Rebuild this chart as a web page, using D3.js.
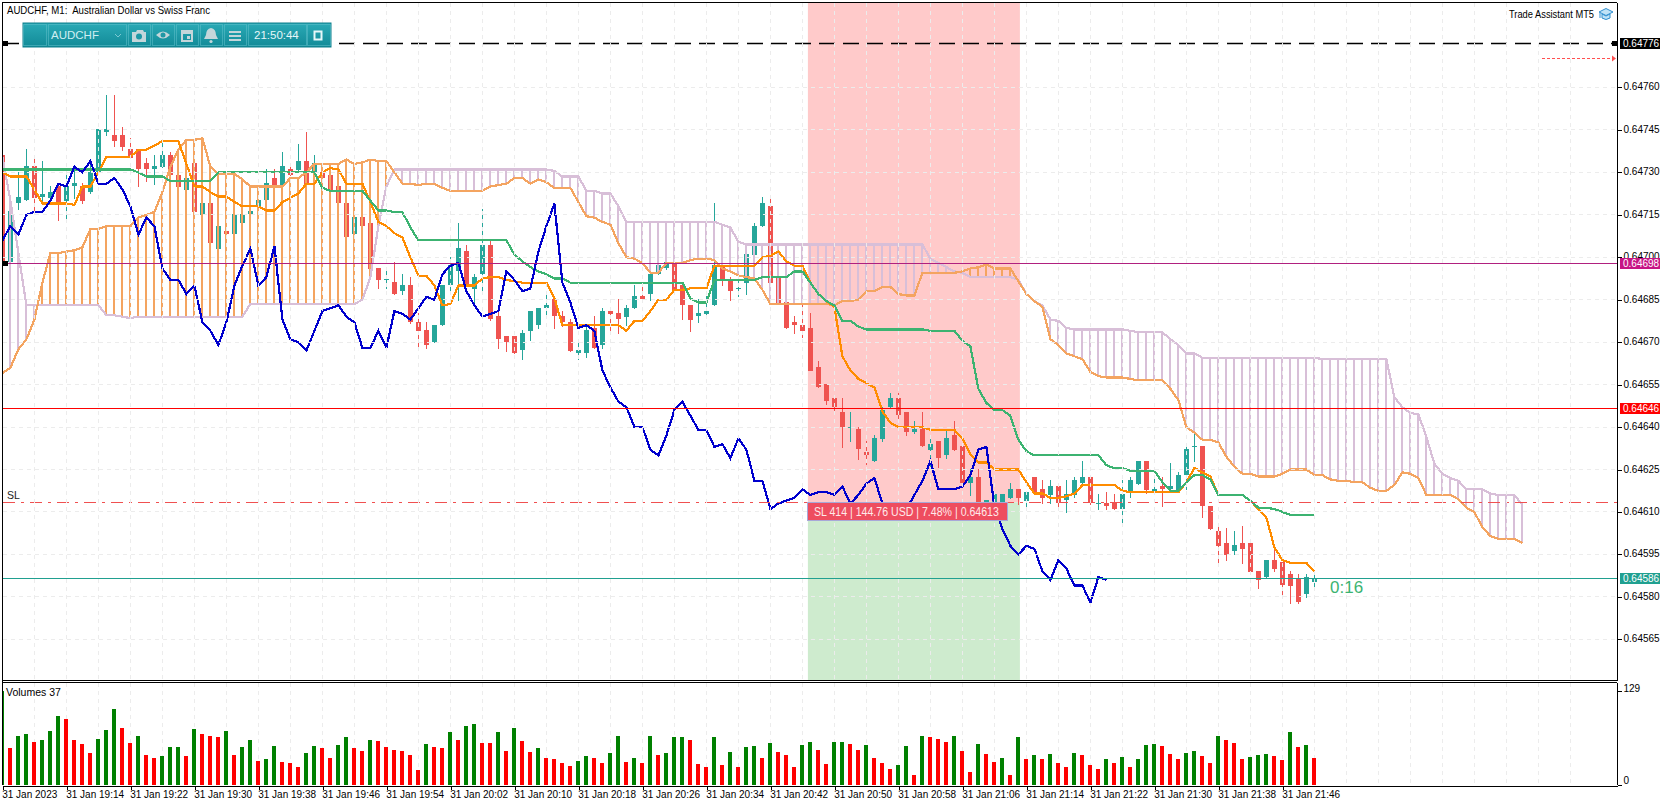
<!DOCTYPE html>
<html>
<head>
<meta charset="utf-8">
<title>AUDCHF M1</title>
<script src="https://cdn.jsdelivr.net/npm/d3@7"></script>
<style>
  html, body { margin: 0; padding: 0; background: #fff; }
  svg { display: block; font-family: "Liberation Sans", Arial, sans-serif; }
  .axis text { font-size: 10px; fill: #000; font-family: "Liberation Sans", Arial, sans-serif; }
  .axis line, .axis path { stroke: #000; shape-rendering: crispEdges; }
  .grid line { stroke: #ececec; stroke-dasharray: 4 4; shape-rendering: crispEdges; }
</style>
</head>
<body>
<svg id="chart"></svg>
<script>
// prices are kept in points (1 point = 0.00001), bar 0 is 31 Jan 19:06
const open = [
  64736,64698,64719,64720,64732,64721,64721,64725,64720,64725,
  64725,64723,64730,64744,64743,64743,64738,64738,64733,64731,
  64732,64736,64729,64724,64733,64715,64719,64703,64709,64708,
  64712,64715,64718,64720,64728,64725,64731,64731,64734,64730,
  64730,64729,64725,64719,64708,64714,64712,64696,64692,64691,
  64688,64690,64677,64674,64670,64676,64690,64695,64702,64689,
  64694,64704,64679,64672,64672,64667,64674,64676,64682,64685,
  64679,64677,64666,64666,64675,64669,64681,64680,64679,64682,
  64686,64687,64694,64696,64698,64690,64683,64679,64680,64683,
  64697,64692,64689,64691,64701,64711,64718,64693,64684,64677,
  64676,64675,64661,64655,64650,64645,64640,64639,64631,64628,
  64636,64647,64650,64645,64638,64639,64632,64635,64630,64637,
  64633,64620,64622,64613,64613,64613,64615,64618,64614,64622,
  64618,64616,64619,64614,64616,64620,64622,64613,64613,64613,
  64611,64617,64620,64628,64617,64619,64618,64618,64623,64633,
  64633,64612,64603,64599,64596,64599,64599,64589,64587,64593,
  64592,64588,64586,64581,64585];
const high = [
  64736,64716,64730,64738,64735,64734,64725,64726,64730,64732,
  64726,64734,64745,64757,64757,64746,64742,64738,64735,64736,
  64741,64737,64731,64731,64733,64719,64719,64711,64709,64715,
  64715,64716,64720,64731,64731,64737,64733,64740,64744,64736,
  64730,64730,64725,64719,64714,64714,64712,64696,64696,64698,
  64694,64693,64680,64677,64676,64690,64700,64712,64704,64694,
  64717,64706,64681,64672,64672,64674,64681,64682,64687,64685,
  64681,64678,64671,64676,64679,64682,64681,64685,64683,64690,
  64690,64694,64697,64699,64698,64690,64683,64685,64686,64719,
  64697,64693,64692,64701,64712,64721,64721,64693,64684,64679,
  64683,64680,64663,64655,64651,64650,64645,64640,64635,64637,
  64647,64652,64652,64645,64642,64645,64637,64635,64639,64642,
  64633,64625,64625,64614,64616,64616,64620,64618,64617,64622,
  64621,64621,64619,64621,64622,64628,64623,64616,64617,64616,
  64621,64622,64628,64628,64622,64622,64627,64624,64633,64638,
  64633,64612,64605,64604,64603,64605,64600,64589,64593,64598,
  64592,64589,64588,64588,64589];
const low = [
  64698,64698,64717,64720,64716,64719,64720,64713,64713,64721,
  64719,64723,64730,64743,64739,64738,64735,64725,64727,64726,
  64732,64728,64725,64724,64716,64715,64705,64703,64708,64708,
  64712,64715,64716,64720,64725,64725,64729,64731,64726,64729,
  64728,64724,64719,64707,64708,64711,64696,64689,64689,64687,
  64687,64677,64667,64668,64670,64676,64687,64685,64690,64684,
  64687,64678,64668,64667,64666,64664,64671,64675,64679,64675,
  64676,64667,64664,64665,64668,64668,64673,64673,64676,64682,
  64684,64685,64694,64696,64688,64678,64674,64677,64679,64683,
  64690,64685,64686,64687,64701,64711,64691,64684,64675,64673,
  64672,64660,64654,64648,64645,64633,64635,64629,64627,64628,
  64635,64647,64642,64637,64638,64633,64625,64626,64629,64632,
  64620,64616,64613,64613,64613,64613,64615,64613,64612,64616,
  64613,64613,64612,64610,64615,64620,64613,64611,64611,64611,
  64606,64615,64620,64617,64616,64612,64617,64617,64618,64628,
  64608,64604,64592,64593,64595,64592,64589,64583,64587,64589,
  64580,64578,64578,64580,64584];
const close = [
  64698,64716,64721,64732,64721,64722,64723,64719,64725,64726,
  64720,64730,64745,64745,64741,64739,64735,64731,64731,64732,
  64736,64729,64725,64728,64716,64719,64705,64711,64708,64715,
  64715,64716,64720,64726,64725,64732,64729,64734,64726,64733,
  64728,64724,64719,64707,64714,64711,64696,64692,64692,64687,
  64690,64677,64674,64669,64676,64690,64697,64703,64690,64693,
  64704,64678,64671,64670,64666,64673,64681,64682,64683,64679,
  64677,64667,64667,64674,64668,64681,64680,64678,64682,64686,
  64685,64694,64697,64698,64688,64683,64678,64680,64681,64697,
  64692,64688,64689,64701,64711,64719,64691,64684,64675,64676,
  64674,64660,64654,64649,64647,64640,64640,64632,64630,64636,
  64646,64650,64644,64638,64639,64633,64634,64629,64636,64632,
  64620,64622,64613,64614,64616,64616,64618,64615,64617,64617,
  64615,64619,64613,64616,64621,64622,64613,64613,64612,64611,
  64616,64621,64628,64618,64618,64618,64619,64623,64632,64633,
  64612,64604,64598,64595,64598,64597,64589,64586,64593,64590,
  64584,64584,64578,64587,64586];
const volume = [
  129,51,67,70,59,62,74,95,90,62,
  56,44,63,75,104,78,58,67,41,37,
  40,52,52,40,77,70,67,66,74,41,
  52,62,33,35,54,32,30,25,44,54,
  50,37,55,65,51,47,62,60,52,48,
  47,41,20,56,52,51,73,62,81,84,
  58,57,73,47,78,60,45,50,37,35,
  30,26,33,39,37,30,44,67,32,37,
  30,67,41,44,65,65,62,29,25,65,
  28,45,24,52,54,37,58,45,41,24,
  55,59,48,29,59,59,56,48,55,37,
  30,22,28,54,14,67,66,63,59,67,
  47,18,56,43,32,37,14,65,36,41,
  36,43,30,25,44,41,28,22,36,30,
  38,25,36,55,56,53,43,36,44,47,
  40,30,67,62,58,36,38,41,43,40,
  34,72,52,55,37];
const tenkan = [
  64730,64728.5,64728.5,64728.5,64724,64719,64719,64719,64719,64718.5,
  64725,64725,64730,64735.5,64735.5,64735.5,64735.5,64738,64738,64739.5,
  64741,64741,64741,64733,64725,64725,64723,64721.5,64721.5,64719.5,
  64718,64718,64718,64716.5,64716.5,64719.5,64721,64722.5,64726,64726,
  64730,64731.5,64731,64726,64726,64726,64719.5,64712.5,64711,64708.5,
  64707,64700,64693.5,64693.5,64690,64683,64683.5,64690,64690,64690,
  64692.5,64693,64693,64692,64691.5,64691,64691,64691,64691,64685.5,
  64676,64676,64676,64676,64676,64676,64676,64676,64674,64677.5,
  64677.5,64681,64685,64685,64688.5,64688.5,64689,64689,64689,64697,
  64697,64697,64697,64697,64697,64700,64700.5,64702,64698.5,64697,
  64697,64691,64687,64684.5,64682.5,64665,64660,64657,64655.5,64654,
  64645.5,64641.5,64640,64640,64640,64640,64639,64639,64639,64639,
  64636,64630.5,64627.5,64627.5,64625,64625,64625,64625,64620.5,64616.5,
  64616.5,64615,64615,64615.5,64616.5,64619.5,64619.5,64619.5,64619.5,64619.5,
  64617.5,64617,64617,64617,64617,64617,64617,64617,64620.5,64625.5,
  64624,64622.5,64616,64616,64616,64616,64614,64611,64608,64597.5,
  64593,64592,64592,64592,64589];
const kijun = [
  64731,64731,64731,64731,64731,64731,64731,64731,64731,64731,
  64731,64731,64731,64731,64731,64731,64731,64730,64728.5,64728.5,
  64728.5,64727,64727,64727,64727,64727,64727,64730,64730,64730,
  64730,64730,64730,64730,64730,64730,64730,64730,64730,64730,
  64724.5,64723.5,64723.5,64723.5,64723.5,64723.5,64720,64716.5,64716.5,64716,
  64716,64710.5,64706,64706,64706,64706,64706,64706,64706,64706,
  64706,64706,64706,64706,64701,64698.5,64696.5,64695,64694,64692.5,
  64692.5,64691,64691,64691,64691,64691,64691,64691,64691,64691,
  64691,64691,64691,64691,64691,64691,64685.5,64684,64684,64692,
  64692,64692,64692,64692,64692,64693,64693,64693,64693,64695,
  64695,64691,64687,64684.5,64683,64677.5,64677.5,64675.5,64674.5,64674.5,
  64674.5,64674.5,64674.5,64674.5,64674.5,64674.5,64674,64674,64674,64674,
  64670.5,64668.5,64653.5,64648.5,64646,64646,64644,64635.5,64631.5,64630,
  64630,64630,64630,64630,64630,64630,64630,64630,64626.5,64625.5,
  64625.5,64624.5,64624.5,64624.5,64624.5,64620.5,64617.5,64617.5,64620.5,64623,
  64623,64621.5,64616,64616,64616,64616,64614,64611.5,64611.5,64611,
  64610,64609,64609,64609,64609];
const chikou = [
  64706,64711,64708,64715,64716,64716,64720,64726,64725,64732,
  64730,64734,64726,64726,64728,64724,64718,64708,64714,64711,
  64696,64692,64692,64687,64690,64677,64674,64669,64677,64690,
  64697,64703,64690,64693,64704,64678,64671,64670,64667,64674,
  64681,64682,64683,64679,64677,64668,64668,64674,64668,64681,
  64680,64678,64682,64686,64685,64694,64697,64698,64688,64683,
  64679,64680,64681,64695,64692,64688,64689,64702,64711,64719,
  64691,64684,64675,64676,64674,64660,64654,64649,64647,64640,
  64640,64632,64630,64637,64646,64649,64644,64639,64639,64633,
  64634,64629,64636,64632,64621,64621,64611,64613,64614,64615,
  64618,64616,64617,64617,64616,64619,64613,64616,64620,64622,
  64613,64613,64612,64611,64616,64621,64628,64618,64618,64618,
  64619,64623,64632,64633,64612,64604,64598,64595,64598,64597,
  64589,64586,64593,64590,64584,64584,64578,64587,64586];
const spanA = [
  64659,64661,64667.5,64671,64678,64691,64701.5,64701.5,64702,64702.5,
  64703.5,64710,64710,64711,64711,64711,64711,64714,64715,64716,
  64723,64732,64738,64741.5,64741.5,64742,64732,64729.5,64729.5,64729.5,
  64727.5,64725,64725,64725,64725,64725,64728,64728,64730,64733,
  64733,64733,64733,64734.5,64733,64733.5,64734.5,64734,64734,64730,
  64726,64726,64725.5,64726,64726,64724.5,64723.5,64723.5,64723.5,64723.5,
  64723.5,64725,64725.5,64726,64728,64728,64726,64727.5,64726.5,64724.5,
  64724.5,64724.5,64719.5,64714.5,64714,64712.5,64711.5,64705,64700,64699.5,
  64698,64694.5,64694.5,64698,64698,64698,64699,64699.5,64699.5,64699,
  64696,64695,64693.5,64693,64692.5,64688.5,64683.5,64683.5,64683.5,64683.5,
  64683.5,64683.5,64683.5,64683.5,64683,64684.5,64684.5,64685,64688,64688,
  64689.5,64689.5,64687,64686.5,64686.5,64694.5,64694.5,64694.5,64694.5,64694.5,
  64695,64696,64696.5,64697.5,64696,64696,64696,64691.5,64687,64684.5,
  64682.5,64671,64669,64666,64665,64664,64659.5,64658,64657.5,64657.5,
  64657.5,64657,64656.5,64656.5,64656.5,64656.5,64653.5,64649.5,64640,64638,
  64635.5,64635.5,64634.5,64629.5,64626,64623.5,64623.5,64622.5,64622.5,64622.5,
  64623.5,64625,64625,64625,64623,64623,64621.5,64621,64621,64620.5,
  64620.5,64618.5,64617.5,64617.5,64619.5,64624,64623.5,64622,64616,64616,
  64616,64616,64614.5,64611.5,64610,64604.5,64601.5,64600.5,64600.5,64600.5,64599];
const spanB = [
  64735.5,64720,64701.5,64683,64683,64683,64683,64683,64683,64683,
  64683,64683,64683,64679.5,64679.5,64679,64678.5,64679,64679,64679,
  64679,64679,64679,64679,64679,64679,64679,64679,64679,64679,
  64679,64683.5,64683.5,64683.5,64683.5,64683.5,64683.5,64683.5,64683.5,64683.5,
  64683.5,64683.5,64683.5,64683.5,64683.5,64685,64693,64711,64725,64731,
  64731,64731,64731,64731,64731,64731,64731,64731,64731,64731,
  64731,64731,64731,64731,64731,64731,64731,64731,64731,64730.5,
  64728.5,64728.5,64728.5,64723.5,64723.5,64722.5,64722.5,64718,64712.5,64712.5,
  64712.5,64712.5,64712.5,64712.5,64712.5,64712.5,64712.5,64712.5,64712.5,64712.5,
  64711.5,64710.5,64705.5,64704.5,64704.5,64704.5,64704.5,64704.5,64704.5,64704.5,
  64704.5,64704.5,64704.5,64704.5,64704.5,64704.5,64704.5,64704.5,64704.5,64704.5,
  64704.5,64704.5,64704.5,64704.5,64704.5,64704.5,64699.5,64698,64696.5,64695,
  64694.5,64693,64693,64693,64693,64693,64693,64692,64687,64684.5,
  64683,64678,64677.5,64675,64674.5,64674.5,64674.5,64674.5,64674.5,64674.5,
  64674.5,64674,64673.5,64673.5,64673.5,64673.5,64671,64669,64666,64666,
  64664.5,64664.5,64664.5,64664.5,64664.5,64664.5,64664.5,64664.5,64664.5,64664.5,
  64664.5,64664.5,64664.5,64664.5,64664.5,64664,64664,64664,64664,64664,
  64664,64664,64664,64664,64650.5,64647,64645,64644.5,64636.5,64627,
  64623.5,64622,64621,64618,64618,64618,64616.5,64616,64616,64616,64612.5];

const priceTicks = [64760,64745,64730,64715,64700,64685,64670,64655,64640,64625,64610,64595,64580,64565];
const timeLabels = ["31 Jan 2023","31 Jan 19:14","31 Jan 19:22","31 Jan 19:30","31 Jan 19:38","31 Jan 19:46",
  "31 Jan 19:54","31 Jan 20:02","31 Jan 20:10","31 Jan 20:18","31 Jan 20:26","31 Jan 20:34","31 Jan 20:42",
  "31 Jan 20:50","31 Jan 20:58","31 Jan 21:06","31 Jan 21:14","31 Jan 21:22","31 Jan 21:30","31 Jan 21:38","31 Jan 21:46"];

// price levels drawn across the chart
const maxLevel = 64775.6, midLevel = 64697.8, upperLevel = 64646.6, slLevel = 64613.4, bidLevel = 64586.5;
const targetLevel = 64770.3;
const tagLabels = ["0.64776", "0.64698", "0.64646", "0.64586"];
// risk zone, in bars
const zoneStart = 100.65, zoneEnd = 127.15, slLabelEnd = 125.65, slLabelBottom = 64607;

// Chart Dimensions
const width = 1670, height = 806;
const left = 3, right = 1617, mainTop = 3, mainBottom = 680, volTop = 683, volBottom = 785;
const barStep = 8, firstBar = 2.7;

const svg = d3.select("#chart").attr("width", width).attr("height", height);

// Create Scales
const x = d3.scaleLinear().domain([0, (right - firstBar) / barStep]).range([firstBar, right]);
const y = d3.scaleLinear().domain([64565, 64760]).range([639.3, 87.45]);
const yVol = d3.scaleLinear().domain([0, 129]).range([volBottom, 690.7]);
const col = (i) => Math.floor(x(i));

const defs = svg.append("defs");
defs.append("clipPath").attr("id", "mainClip").append("rect")
  .attr("x", left).attr("y", mainTop).attr("width", right - left).attr("height", mainBottom - mainTop);
defs.append("clipPath").attr("id", "volClip").append("rect")
  .attr("x", left).attr("y", volTop).attr("width", right - left).attr("height", volBottom - volTop);
const tbGrad = defs.append("linearGradient").attr("id", "tbGrad").attr("x1", 0).attr("y1", 0).attr("x2", 0).attr("y2", 1);
tbGrad.append("stop").attr("offset", "0%").attr("stop-color", "#2aaab6");
tbGrad.append("stop").attr("offset", "100%").attr("stop-color", "#128a97");

const main = svg.append("g").attr("clip-path", "url(#mainClip)");

// Risk zone
main.append("rect").attr("x", x(zoneStart)).attr("y", mainTop)
  .attr("width", x(zoneEnd) - x(zoneStart)).attr("height", y(slLevel) - mainTop).attr("fill", "#ffcaca");
main.append("rect").attr("x", x(zoneStart)).attr("y", y(slLevel))
  .attr("width", x(zoneEnd) - x(zoneStart)).attr("height", mainBottom - y(slLevel)).attr("fill", "#ceebce");

// Grid
const gridBars = d3.range(4, 200, 4);
const grid = svg.append("g").attr("class", "grid");
grid.selectAll(".gv").data(gridBars).enter().append("line").attr("class", "gv")
  .attr("x1", (d) => col(d) + 0.5).attr("x2", (d) => col(d) + 0.5).attr("y1", mainTop).attr("y2", mainBottom);
grid.selectAll(".gw").data(gridBars).enter().append("line").attr("class", "gw")
  .attr("x1", (d) => col(d) + 0.5).attr("x2", (d) => col(d) + 0.5).attr("y1", volTop).attr("y2", volBottom);
grid.selectAll(".gh").data(priceTicks).enter().append("line").attr("class", "gh")
  .attr("x1", left).attr("x2", right)
  .attr("y1", (d) => Math.floor(y(d)) + 0.5).attr("y2", (d) => Math.floor(y(d)) + 0.5);

// Candles
const bars = d3.range(open.length);
const teal = "#26a69a", red = "#ef5350";
const barColor = (i) => (close[i] >= open[i] ? teal : red);
main.selectAll(".wick").data(bars).enter().append("rect").attr("class", "wick")
  .attr("x", (i) => col(i)).attr("width", 1)
  .attr("y", (i) => Math.floor(y(high[i]))).attr("height", (i) => Math.ceil(y(low[i]) - y(high[i])) + 1)
  .attr("fill", barColor).attr("shape-rendering", "crispEdges");
main.selectAll(".body").data(bars).enter().append("rect").attr("class", "body")
  .attr("x", (i) => col(i) - 2).attr("width", 5)
  .attr("y", (i) => Math.floor(y(Math.max(open[i], close[i]))))
  .attr("height", (i) => Math.max(1, Math.ceil(Math.abs(y(open[i]) - y(close[i])))))
  .attr("fill", barColor).attr("shape-rendering", "crispEdges");

// Ichimoku cloud
const cloudBars = d3.range(spanA.length);
main.selectAll(".hatch").data(cloudBars).enter().append("rect").attr("class", "hatch")
  .attr("x", (i) => col(i) - 1).attr("width", 2)
  .attr("y", (i) => y(Math.max(spanA[i], spanB[i])))
  .attr("height", (i) => Math.abs(y(spanA[i]) - y(spanB[i])))
  .attr("fill", (i) => (spanA[i] > spanB[i] ? "#f4a460" : "#d8bfd8"))
  .attr("shape-rendering", "crispEdges");

const lineGen = d3.line().x((d, i) => x(i) - 0.3).y((d) => y(d));
function drawLine(values, color) {
  main.append("path").datum(values).attr("d", lineGen).attr("fill", "none")
    .attr("stroke", color).attr("stroke-width", 2.2).attr("shape-rendering", "crispEdges");
}
drawLine(spanB, "#d8bfd8");
drawLine(spanA, "#f4a460");
drawLine(tenkan, "#ff8c00");
drawLine(kijun, "#3cb371");
drawLine(chikou, "#0000cd");

// Horizontal levels
const rowOf = (p) => Math.floor(y(p));
function level(p, color, dash) {
  main.append("line").attr("x1", left).attr("x2", right)
    .attr("y1", rowOf(p) + 0.5).attr("y2", rowOf(p) + 0.5)
    .attr("stroke", color).attr("stroke-width", 1)
    .attr("stroke-dasharray", dash || null).attr("shape-rendering", "crispEdges");
}
level(midLevel, "#b0207f");
level(upperLevel, "#ff0000");
level(bidLevel, "#20a090");
level(slLevel, "#f05050", "12 6 3 6");
main.append("line").attr("x1", left).attr("x2", right)
  .attr("y1", rowOf(maxLevel) + 0.5).attr("y2", rowOf(maxLevel) + 0.5)
  .attr("stroke", "#000").attr("stroke-width", 1.5).attr("stroke-dasharray", "16 8");

// Small handles on the levels
[[left, maxLevel], [right - 5, maxLevel], [left, midLevel]].forEach(([px, p]) => {
  svg.append("rect").attr("x", px).attr("y", rowOf(p) - 2).attr("width", 5).attr("height", 5).attr("fill", "#000");
});

// Target arrow, top right
const ty = rowOf(targetLevel) + 0.5;
svg.append("line").attr("x1", 1542).attr("x2", 1612).attr("y1", ty).attr("y2", ty)
  .attr("stroke", "#ff5050").attr("stroke-dasharray", "3 2").attr("shape-rendering", "crispEdges");
svg.append("path").attr("d", `M1612,${ty - 3}L1616,${ty}L1612,${ty + 3}Z`).attr("fill", "#ff5050");

// SL label
const slTop = y(slLevel) + 0.5;
svg.append("rect").attr("x", x(zoneStart)).attr("y", slTop)
  .attr("width", x(slLabelEnd) - x(zoneStart)).attr("height", y(slLabelBottom) - slTop)
  .attr("fill", "#ee4d5f").attr("stroke", "#a8a8d8").attr("shape-rendering", "crispEdges");
svg.append("text").attr("x", x(zoneStart) + 6).attr("y", (slTop + y(slLabelBottom)) / 2 + 4.5)
  .attr("fill", "#ffe9ea").attr("font-size", 12)
  .attr("textLength", 185).attr("lengthAdjust", "spacingAndGlyphs")
  .text("SL 414 | 144.76 USD | 7.48% | 0.64613");
svg.append("text").attr("x", 7).attr("y", 499).attr("font-size", 10.5).attr("fill", "#222").text("SL");

// Timer next to the last bar
svg.append("text").attr("x", 1330).attr("y", 593).attr("font-size", 17).attr("fill", "#3cb371").text("0:16");

// Volumes
const vol = svg.append("g").attr("clip-path", "url(#volClip)");
vol.selectAll(".vol").data(bars).enter().append("rect").attr("class", "vol")
  .attr("x", (i) => col(i) - 2).attr("width", 4)
  .attr("y", (i) => yVol(volume[i])).attr("height", (i) => volBottom - yVol(volume[i]))
  .attr("fill", (i) => (i === 0 || volume[i] >= volume[i - 1] ? "#008000" : "#ff0000"))
  .attr("shape-rendering", "crispEdges");
svg.append("text").attr("x", 6).attr("y", 696).attr("font-size", 10.5).text("Volumes 37");

// Axes
const priceAxis = d3.axisRight(y).tickValues(priceTicks).tickSize(4).tickPadding(2).tickSizeOuter(0)
  .tickFormat((d) => (d / 1e5).toFixed(5));
const pa = svg.append("g").attr("class", "axis").attr("transform", `translate(${right + 0.5},0)`).call(priceAxis);
pa.select(".domain").attr("d", `M0,2.5V${mainBottom + 1}`);
pa.selectAll(".tick text").attr("transform", "translate(0,-0.7)");

const volAxis = d3.axisRight(yVol).tickValues([0, 129]).tickSize(4).tickPadding(2).tickSizeOuter(0).tickFormat(d3.format("d"));
const va = svg.append("g").attr("class", "axis").attr("transform", `translate(${right + 0.5},0)`).call(volAxis);
va.select(".domain").attr("d", `M0,${volTop}V${volBottom}`);
va.selectAll(".tick text").attr("dy", (d) => (d === 0 ? "-0.2em" : "0.1em"));

const timeAxis = d3.axisBottom(x).tickValues(d3.range(0, 165, 8)).tickSize(4).tickPadding(1).tickSizeOuter(0)
  .tickFormat((d, i) => timeLabels[i]);
const ta = svg.append("g").attr("class", "axis").attr("transform", `translate(0,${volBottom + 0.5})`).call(timeAxis);
ta.selectAll(".tick text").attr("text-anchor", "start").attr("x", -1);

// Pane frame
const frame = svg.append("g").attr("stroke", "#000").attr("shape-rendering", "crispEdges");
frame.append("line").attr("x1", 2.5).attr("x2", 2.5).attr("y1", 2).attr("y2", volBottom);
frame.append("line").attr("x1", 2).attr("x2", right).attr("y1", 2.5).attr("y2", 2.5);
frame.append("line").attr("x1", 2).attr("x2", right).attr("y1", 680.5).attr("y2", 680.5);
frame.append("line").attr("x1", 2).attr("x2", right).attr("y1", 682.5).attr("y2", 682.5);

// Price tags on the axis
const tags = [[maxLevel, "#000000"], [midLevel, "#c71585"], [upperLevel, "#ff0000"], [bidLevel, "#20a090"]];
tags.forEach(([p, c], i) => {
  svg.append("rect").attr("x", right + 3).attr("y", rowOf(p) - 5).attr("width", 40).attr("height", 11).attr("fill", c);
  svg.append("text").attr("x", right + 6).attr("y", rowOf(p) + 4).attr("font-size", 10).attr("fill", "#fff")
    .text(tagLabels[i]);
});

// Header texts
svg.append("text").attr("x", 7).attr("y", 14).attr("font-size", 11).style("white-space", "pre")
  .attr("textLength", 203).attr("lengthAdjust", "spacingAndGlyphs")
  .text("AUDCHF, M1:  Australian Dollar vs Swiss Franc");
svg.append("text").attr("x", 1509).attr("y", 17.5).attr("font-size", 10.5)
  .attr("textLength", 85).attr("lengthAdjust", "spacingAndGlyphs").text("Trade Assistant MT5");

// Graduation cap icon
const cap = svg.append("g").attr("transform", "translate(1599,7)").attr("stroke", "#2f8fd0").attr("fill", "#bfe3f7");
cap.append("path").attr("d", "M0,5L7,1.5L14,5L7,8.5Z");
cap.append("path").attr("d", "M3,7V11Q7,14 11,11V7L7,9Z");
cap.append("path").attr("d", "M1,5.5V11").attr("fill", "none");

// Toolbar
const tb = svg.append("g").attr("transform", "translate(23,23)");
tb.append("rect").attr("width", 308).attr("height", 24).attr("fill", "url(#tbGrad)").attr("stroke", "#0f7f8b");
const segs = [[0, 23], [25, 78], [105, 22], [129, 22], [153, 22], [177, 22], [201, 22], [225, 58], [284, 23]];
tb.selectAll(".seg").data(segs).enter().append("rect").attr("class", "seg")
  .attr("x", (d) => d[0] + 0.5).attr("y", 1.5).attr("width", (d) => d[1]).attr("height", 21)
  .attr("fill", "none").attr("stroke", "#5fc0ca").attr("stroke-opacity", 0.55);
tb.append("text").attr("x", 28).attr("y", 16).attr("font-size", 11.5).attr("fill", "#cfeef2").text("AUDCHF");
tb.append("path").attr("d", "M92,11L95,14L98,11").attr("fill", "none").attr("stroke", "#7cc9d2");
tb.append("text").attr("x", 231).attr("y", 16).attr("font-size", 11.5).attr("fill", "#e6f7f9").text("21:50:44");
const ic = tb.append("g").attr("fill", "#c4d6da");
// camera
ic.append("path").attr("d", "M109,9H113L114,7H120L121,9H123V19H109Z");
ic.append("circle").attr("cx", 116).attr("cy", 13.5).attr("r", 3).attr("fill", "#1f98a5");
// eye
ic.append("path").attr("d", "M133,12Q140,5 147,12Q140,19 133,12Z");
ic.append("circle").attr("cx", 140).attr("cy", 12).attr("r", 2.5).attr("fill", "#1f98a5");
// calendar
ic.append("path").attr("d", "M158,7H170V19H158ZM160,11V17H168V11Z").attr("fill-rule", "evenodd");
ic.append("rect").attr("x", 164).attr("y", 13).attr("width", 3).attr("height", 3);
// bell
ic.append("path").attr("d", "M188,5Q193,6 193,12L195,16H181L183,12Q183,6 188,5Z");
ic.append("circle").attr("cx", 188).attr("cy", 18.5).attr("r", 1.6);
// menu
ic.append("rect").attr("x", 206).attr("y", 8).attr("width", 12).attr("height", 2);
ic.append("rect").attr("x", 206).attr("y", 12).attr("width", 12).attr("height", 2);
ic.append("rect").attr("x", 206).attr("y", 16).attr("width", 12).attr("height", 2);
// window
tb.append("rect").attr("x", 291.5).attr("y", 8.5).attr("width", 7).attr("height", 8).attr("fill", "none")
  .attr("stroke", "#e6f7f9").attr("stroke-width", 2);
</script>
</body>
</html>
